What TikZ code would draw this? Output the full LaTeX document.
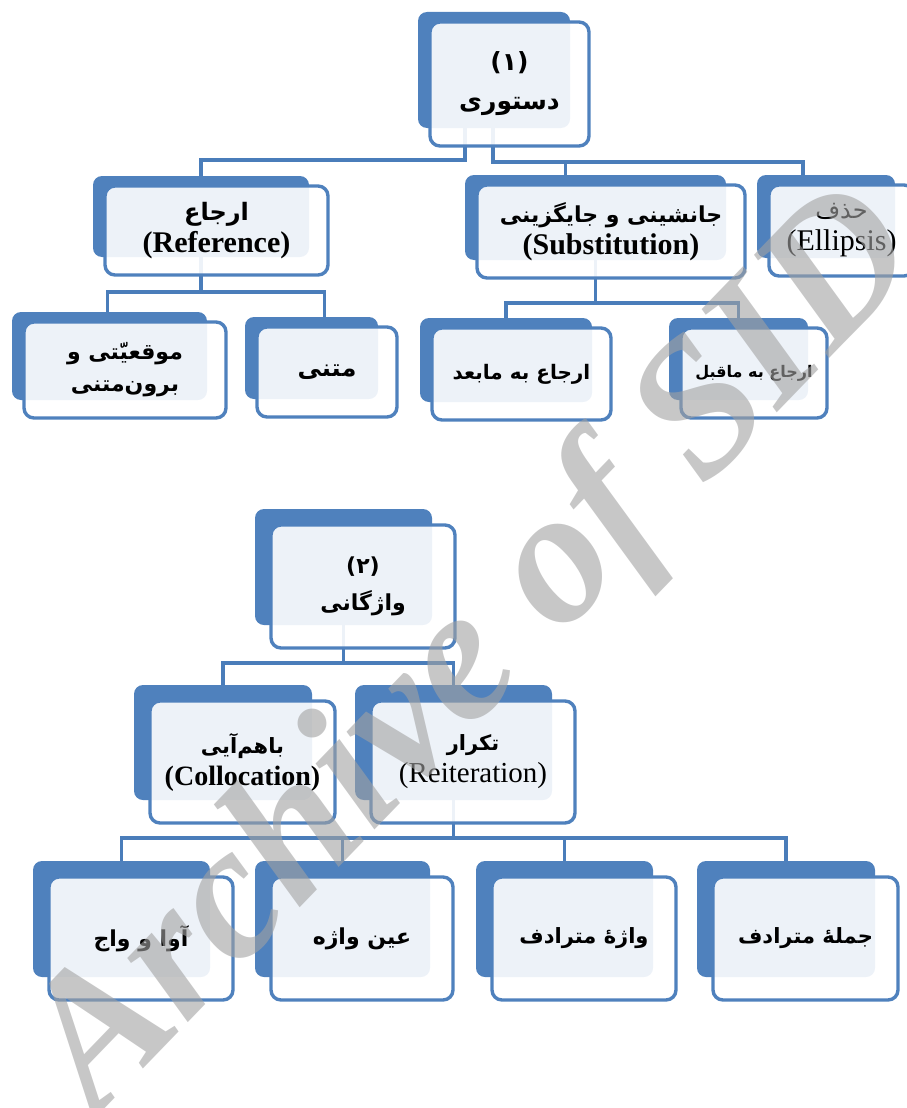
\documentclass[tikz,border=0pt]{standalone}
\usepackage{fontspec}
\usetikzlibrary{calc}
\TeXXeTstate=1
\newfontfamily\fa[Script=Arabic]{DejaVu Sans}
\newfontfamily\en{Liberation Serif}
\definecolor{bblue}{HTML}{4F81BD}
\definecolor{lblue}{HTML}{4A7DBA}
\definecolor{wmgray}{HTML}{A2A2A2}
\pgfdeclarelayer{bg}
\pgfsetlayers{bg,main}
\newcommand\FA[2]{{\fa\bfseries\fontsize{#1}{#1}\selectfont #2}}
\newcommand\FAr[2]{{\fa\fontsize{#1}{#1}\selectfont #2}}
\newcommand\ENb[2]{{\en\bfseries\fontsize{#1}{#1}\selectfont #2}}
\newcommand\ENr[2]{{\en\fontsize{#1}{#1}\selectfont #2}}
\newcommand\orgbox[6]{%
  \pgfmathsetmacro\bcx{(#2+#4)/2}%
  \pgfmathsetmacro\bcy{(#3+#5)/2}%
  \pgfmathsetmacro\bw{#4-#2}%
  \pgfmathsetmacro\bh{#5-#3}%
  \pgfmathsetmacro\fcx{(#2+\dL+#4+\dR)/2}%
  \pgfmathsetmacro\fcy{(#3+\dT+#5+\dB)/2}%
  \pgfmathsetmacro\fw{#4+\dR-#2-\dL}%
  \pgfmathsetmacro\fh{#5+\dB-#3-\dT}%
  \node[backbox, minimum width=\bw pt, minimum height=\bh pt] (#1b) at (\bcx,\bcy) {};
  \node[frontbox, minimum width=\fw pt, minimum height=\fh pt] (#1) at (\fcx,\fcy) {#6};
}
\begin{document}
\begin{tikzpicture}[x=1pt,y=-1pt,
  backbox/.style={fill=bblue, draw=none, rounded corners=9pt, inner sep=0pt},
  frontbox/.style={fill=white, fill opacity=0.9, text opacity=1, draw=bblue, draw opacity=1,
    line width=3.4pt, rounded corners=10pt, inner sep=0pt, align=center,
    font=\fontsize{20}{32}\selectfont},
  conn/.style={draw=lblue, line width=3.6pt},
]
\useasboundingbox (0,0) rectangle (907,1108);
% ---------- chart 1 ----------
\def\dL{12}\def\dT{10}\def\dR{19}\def\dB{18}
\orgbox{n1}{418}{12}{570}{128}{\FA{25}{(۱)}\\[7pt]\FA{25}{\beginR دستوری\endR}}
\orgbox{ref}{93}{176}{309}{257}{\FA{24}{\beginR ارجاع\endR}\\\ENb{30}{(Reference)}}
\orgbox{sub}{465}{175}{726}{260}{\FA{22}{\beginR جانشینی و جایگزینی\endR}\\\ENb{30}{(Substitution)}}
\orgbox{ell}{757}{175}{895}{258}{\FAr{24}{\beginR حذف\endR}\\\ENr{30}{(Ellipsis)}}
\orgbox{moq}{12}{312}{207}{400}{\FA{22}{\beginR موقعیّتی و\endR}\\\FA{22}{\beginR برون‌متنی\endR}}
\orgbox{matni}{245}{317}{378}{399}{\FA{24}{\beginR متنی\endR}}
\orgbox{mabad}{420}{318}{592}{402}{\FA{20}{\beginR ارجاع به مابعد\endR}}
\orgbox{maghabl}{669}{318}{808}{400}{\FA{16}{\beginR ارجاع به ماقبل\endR}}
% ---------- chart 2 ----------
\def\dL{16}\def\dT{16}\def\dR{23}\def\dB{23}
\orgbox{n2}{255}{509}{432}{625}{\FA{22}{(۲)}\\[5pt]\FA{22}{\beginR واژگانی\endR}}
\orgbox{col}{134}{685}{312}{800}{\FA{21}{\beginR باهم‌آیی\endR}\\\ENb{28}{(Collocation)}}
\orgbox{rei}{355}{685}{552}{800}{\FA{21}{\beginR تکرار\endR}\\\ENr{29}{(Reiteration)}}
\orgbox{ava}{33}{861}{210}{977}{\FA{22}{\beginR آوا و واج\endR}}
\orgbox{eyn}{255}{861}{430}{977}{\FA{22}{\beginR عین واژه\endR}}
\orgbox{vaje}{476}{861}{653}{977}{\FA{21}{\beginR واژهٔ مترادف\endR}}
\orgbox{jomle}{697}{861}{875}{977}{\FA{21}{\beginR جملهٔ مترادف\endR}}
% ---------- connectors ----------
\coordinate (j1) at (465,160);
\coordinate (j2) at (493,162);
\coordinate (j3) at (201,292);
\coordinate (j4) at (595.5,303);
\coordinate (j5) at (343.5,663);
\coordinate (j6) at (453.5,838);
\begin{pgfonlayer}{bg}
\draw[conn] (n1b.south -| j1) -- (j1) -| (refb.north);
\draw[conn] (n1b.south -| j2) -- (j2) -| ([xshift=-23pt]ellb.north);
\draw[conn] ([xshift=-30pt]subb.north) |- (j2);
\draw[conn] (refb.south) -- (j3);
\draw[conn] ([xshift=-2pt]moqb.north) |- (j3) -| ([xshift=13pt]matnib.north);
\draw[conn] (subb.south) -- (j4);
\draw[conn] (mabadb.north) |- (j4) -| (maghablb.north);
\draw[conn] (n2b.south) -- (j5);
\draw[conn] (colb.north) |- (j5) -| (reib.north);
\draw[conn] (reib.south) -- (j6);
\draw[conn] (avab.north) |- (j6) -| (jomleb.north);
\draw[conn] (eynb.north) -- (eynb.north |- j6);
\draw[conn] (vajeb.north) -- (vajeb.north |- j6);
\end{pgfonlayer}
% ---------- watermark ----------
\node[rotate=46, text=wmgray, text opacity=0.6, inner sep=0pt,
  font=\en\bfseries\itshape\fontsize{192}{192}\selectfont] (wm) at (478,655) {Archive of SID};
\end{tikzpicture}
\end{document}
